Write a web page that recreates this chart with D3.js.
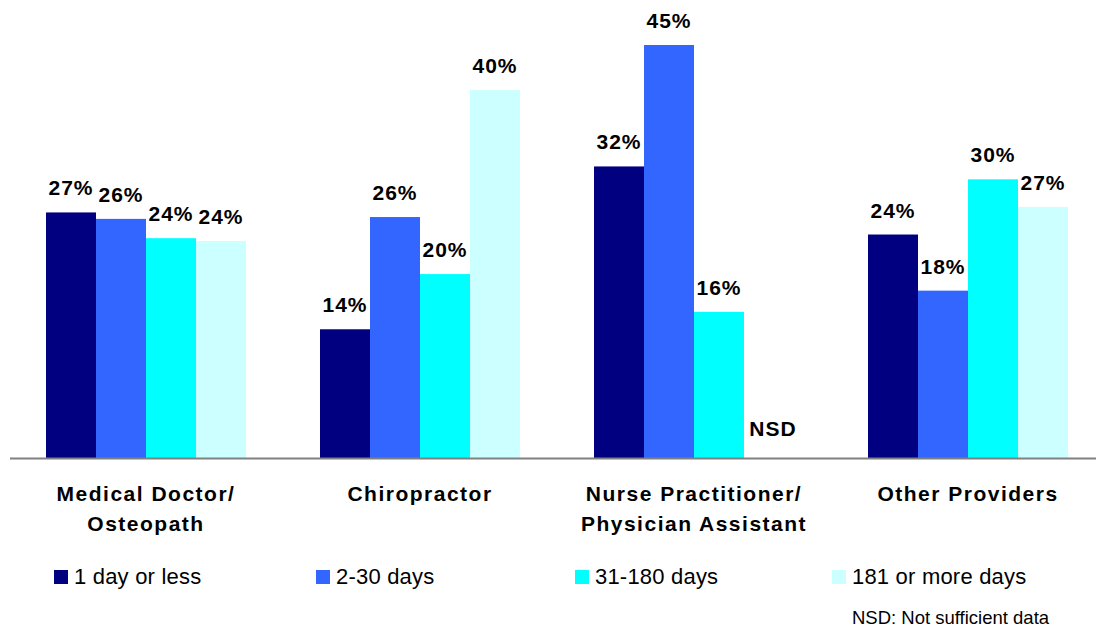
<!DOCTYPE html>
<html>
<head>
<meta charset="utf-8">
<script src="https://cdn.jsdelivr.net/npm/d3@7"></script>
<style>
  body { margin: 0; background: #fff; }
  svg text { font-family: "Liberation Sans", Arial, sans-serif; fill: #000; }
</style>
</head>
<body>
<div id="container"></div>
<script>
let categories = [['Medical Doctor/', 'Osteopath'], ['Chiropractor'], ['Nurse Practitioner/', 'Physician Assistant'], ['Other Providers']];
let series = ['1 day or less', '2-30 days', '31-180 days', '181 or more days'];
let colors = ['#000080', '#3366FF', '#00FFFF', '#CCFFFF'];
// one row per category, one value per series (null = not sufficient data)
let values = [
    [26.8, 26.1, 24.0, 23.7],
    [14.1, 26.3, 20.1, 40.1],
    [31.8, 45.0, 16.0, null],
    [24.4, 18.3, 30.4, 27.4]
];

const width = 1096, height = 629, baseY = 459;
const svg = d3.select('#container').append('svg').attr('width', width).attr('height', height);

const x0 = d3.scaleBand().domain(d3.range(categories.length)).range([9, 1105]);
const x1 = d3.scaleBand().domain(d3.range(series.length)).range([37, 237]);
const y = d3.scaleLinear().domain([0, 50]).range([baseY, baseY - 460]);
const fmt = d => d3.format('.0f')(d) + '%';

let group = svg.selectAll('g.grp')
    .data(values)
    .enter()
    .append('g')
    .attr('class', 'grp')
    .attr('transform', (d, i) => `translate(${x0(i)}, 0)`);

let cell = group.selectAll('g')
    .data(d => d.map((v, i) => ({v: v, i: i})))
    .enter()
    .append('g');

cell.filter(d => d.v !== null).append('rect')
    .attr('x', d => x1(d.i)).attr('y', d => y(d.v))
    .attr('width', x1.bandwidth()).attr('height', d => baseY - y(d.v))
    .attr('fill', d => colors[d.i]);

cell.append('text')
    .attr('x', d => x1(d.i) + x1.bandwidth() / 2 + (d.v === null ? 4 : 0))
    .attr('y', d => d.v === null ? baseY - 23 : y(d.v) - 17)
    .attr('text-anchor', 'middle')
    .style('font-size', '21px').style('font-weight', 'bold').style('letter-spacing', '1px')
    .text(d => d.v === null ? 'NSD' : fmt(d.v));

// baseline
svg.append('line')
    .attr('x1', 10).attr('y1', baseY - 0.5)
    .attr('x2', width).attr('y2', baseY - 0.5)
    .style('stroke', '#808080').style('stroke-width', 2);

// category labels
let cat = svg.selectAll('text.cat')
    .data(categories)
    .enter()
    .append('text')
    .attr('class', 'cat')
    .attr('x', (d, i) => x0(i) + x0.bandwidth() / 2)
    .attr('y', 501)
    .attr('text-anchor', 'middle')
    .style('font-size', '21px').style('font-weight', 'bold').style('letter-spacing', '1.5px');
cat.selectAll('tspan')
    .data(d => d)
    .enter()
    .append('tspan')
    .attr('x', function () { return this.parentNode.getAttribute('x'); })
    .attr('dy', (d, i) => i === 0 ? 0 : 30)
    .text(d => d);

// legend
let legendX = [54, 316, 575, 832];
let leg = svg.selectAll('g.leg')
    .data(series)
    .enter()
    .append('g')
    .attr('class', 'leg')
    .attr('transform', (d, i) => `translate(${legendX[i]}, 570)`);
leg.append('rect')
    .attr('width', 14).attr('height', 14)
    .attr('fill', (d, i) => colors[i]);
leg.append('text')
    .attr('x', (d, i) => i === 3 ? 20 : 20).attr('y', 13.5)
    .style('font-size', '22px').style('letter-spacing', '0.2px')
    .text(d => d);

svg.append('text')
    .attr('x', 852).attr('y', 624)
    .style('font-size', '18.5px')
    .text('NSD: Not sufficient data');
</script>
</body>
</html>
